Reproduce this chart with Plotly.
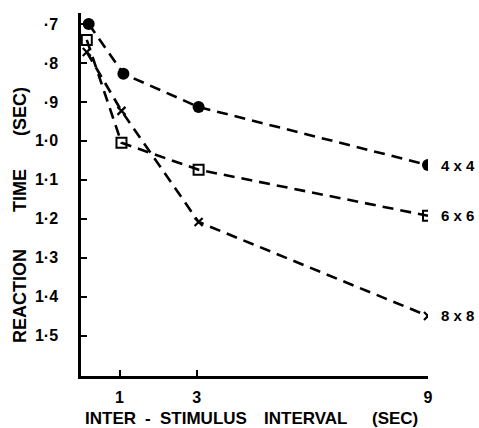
import plotly.graph_objects as go

# Data
x_4x4 = [0.2, 1.1, 3.05, 9.0]
y_4x4 = [0.700, 0.828, 0.913, 1.062]
x_6x6 = [0.15, 1.05, 3.05, 9.0]
y_6x6 = [0.741, 1.005, 1.074, 1.192]
x_8x8 = [0.15, 1.05, 3.05, 9.0]
y_8x8 = [0.772, 0.923, 1.208, 1.449]
series_labels = ["4 x 4", "6 x 6", "8 x 8"]

x_tick_vals = [1, 3, 9]
x_tick_text = ["1", "3", "9"]
y_tick_vals = [0.7, 0.8, 0.9, 1.0, 1.1, 1.2, 1.3, 1.4, 1.5]
y_tick_text = ["·7", "·8", "·9", "1·0", "1·1", "1·2", "1·3", "1·4", "1·5"]

y_title_words = ["REACTION", "TIME", "(SEC)"]
x_title_words = ["INTER", "-", "STIMULUS", "INTERVAL", "(SEC)"]

FONT = "Liberation Sans"
dash = "11px,7px"
W, H = 479, 428
L, R, T, B = 81, 51, 13, 52
PW, PH = W - L - R, H - T - B

def px_x(p):
    return (p - L) / PW

def px_y(p):
    return (H - B - p) / PH

fig = go.Figure()
fig.add_trace(go.Scatter(
    x=x_4x4, y=y_4x4, mode="lines+markers",
    line=dict(color="black", width=2.6, dash=dash),
    marker=dict(symbol="circle", size=12, color="black"),
    showlegend=False))
fig.add_trace(go.Scatter(
    x=x_6x6, y=y_6x6, mode="lines+markers",
    line=dict(color="black", width=2.6, dash=dash),
    marker=dict(symbol="square-open", size=10, color="black", line=dict(width=2)),
    showlegend=False))
fig.add_trace(go.Scatter(
    x=x_8x8, y=y_8x8, mode="lines+markers",
    line=dict(color="black", width=2.6, dash=dash),
    marker=dict(symbol="x-thin-open", size=8, color="black", line=dict(width=2.2, color="black")),
    showlegend=False))

# end-of-line labels
for xs, ys, lab in [(x_4x4, y_4x4, series_labels[0]), (x_6x6, y_6x6, series_labels[1]), (x_8x8, y_8x8, series_labels[2])]:
    fig.add_annotation(x=xs[-1], y=ys[-1], text=lab, showarrow=False,
                       xanchor="left", yanchor="middle", xshift=11,
                       font=dict(family=FONT, size=15, color="black", weight="bold"))

# y-axis title words (rotated), centres in pixels
y_title_centres = [296, 191, 112]
for word, cy in zip(y_title_words, y_title_centres):
    fig.add_annotation(xref="paper", yref="paper", x=px_x(20), y=px_y(cy),
                       text=word, textangle=-90, showarrow=False,
                       xanchor="center", yanchor="middle",
                       font=dict(family=FONT, size=18, color="black", weight="bold"))

# x-axis title words, centres in pixels
x_title_centres = [110, 148, 203, 305, 395]
for word, cx in zip(x_title_words, x_title_centres):
    fig.add_annotation(xref="paper", yref="paper", x=px_x(cx), y=px_y(418),
                       text=word, showarrow=False,
                       xanchor="center", yanchor="middle",
                       font=dict(family=FONT, size=17, color="black", weight="bold"))

fig.update_layout(
    width=W, height=H,
    margin=dict(l=L, r=R, t=T, b=B),
    paper_bgcolor="white", plot_bgcolor="white",
    font=dict(family=FONT, color="black"),
    xaxis=dict(range=[0, 9], showgrid=False, zeroline=False, automargin=False,
               showline=True, linewidth=2.5, linecolor="black",
               ticks="inside", ticklen=6, tickwidth=2, tickcolor="black",
               tickvals=x_tick_vals, ticktext=x_tick_text,
               tickfont=dict(family=FONT, size=16, color="black", weight="bold"),
               ticklabelstandoff=5),
    yaxis=dict(range=[1.603, 0.672], showgrid=False, zeroline=False, automargin=False,
               showline=True, linewidth=2.5, linecolor="black",
               ticks="inside", ticklen=6, tickwidth=2, tickcolor="black",
               tickvals=y_tick_vals, ticktext=y_tick_text,
               tickfont=dict(family=FONT, size=16, color="black", weight="bold"),
               ticklabelstandoff=17),
)

fig.write_html("out.html", config={"displayModeBar": False},
               post_script="document.body.style.margin='0';")
